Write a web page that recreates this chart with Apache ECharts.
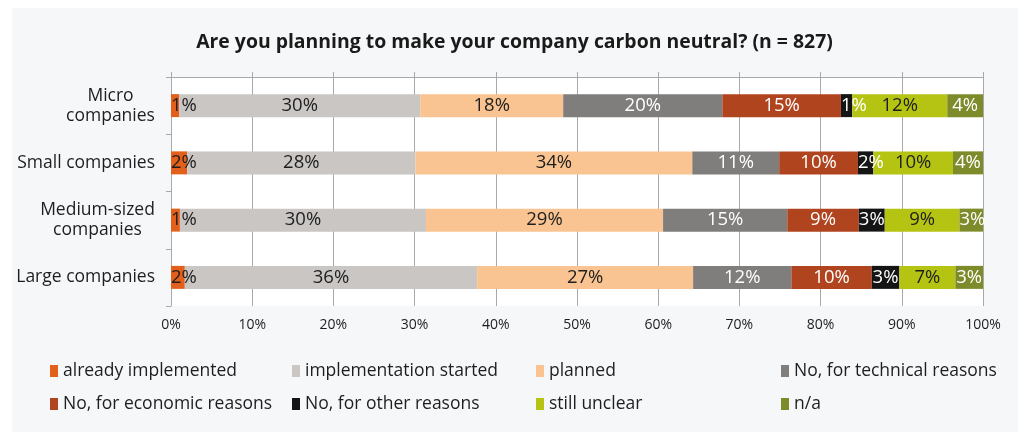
<!DOCTYPE html>
<html>
<head>
<meta charset="utf-8">
<script src="https://cdn.jsdelivr.net/npm/echarts@6/dist/echarts.min.js"></script>
<style>
  html, body { margin: 0; padding: 0; background: #ffffff; }
  #wrap { position: relative; width: 1029px; height: 438px; }
  #panel { position: absolute; left: 12px; top: 8px; width: 1006px; height: 424px; background: #f6f7f9; }
  #chart { position: absolute; left: 0; top: 0; width: 1029px; height: 438px; }
</style>
</head>
<body>
<div id="wrap"><div id="panel"></div><div id="chart"></div></div>
<script>
// Survey: carbon neutrality plans by company size (shares in %, n = 827)
const categories = ['Micro\ncompanies', 'Small companies', 'Medium-sized\ncompanies', 'Large companies'];

const alreadyImplemented    = [1.0, 2.0, 1.1, 1.7];
const implementationStarted = [29.7, 28.1, 30.3, 36.0];
const planned               = [17.6, 34.1, 29.2, 26.6];
const technicalReasons      = [19.6, 10.7, 15.3, 12.1];
const economicReasons       = [14.6, 9.7, 8.8, 9.9];
const otherReasons          = [1.4, 1.9, 3.2, 3.4];
const stillUnclear          = [11.7, 9.8, 9.2, 6.9];
const notApplicable         = [4.4, 3.7, 2.9, 3.4];

const xTickLabels = ['0%', '10%', '20%', '30%', '40%', '50%', '60%', '70%', '80%', '90%', '100%'];

const FONT = '"Open Sans", "Noto Sans", sans-serif';
const GRID_COLOR = '#a9a9a9';
const CAT_SIZE = 17.5;

const seriesDefs = [
  { name: 'already implemented',        data: alreadyImplemented,    color: '#e2601b', text: '#1e1e1e' },
  { name: 'implementation started',     data: implementationStarted, color: '#c9c6c4', text: '#1e1e1e' },
  { name: 'planned',                    data: planned,               color: '#f9c491', text: '#1e1e1e' },
  { name: 'No, for technical reasons',  data: technicalReasons,      color: '#7f7e7c', text: '#ffffff' },
  { name: 'No, for economic reasons',   data: economicReasons,       color: '#b0441f', text: '#ffffff' },
  { name: 'No, for other reasons',      data: otherReasons,          color: '#151515', text: '#ffffff' },
  { name: 'still unclear',              data: stillUnclear,          color: '#b5c413', text: '#1e1e1e' },
  { name: 'n/a',                        data: notApplicable,         color: '#7d8b2b', text: '#ffffff' }
];

// widths of multi-line category labels, so each line can be centred in its block
const measureCtx = document.createElement('canvas').getContext('2d');
measureCtx.font = CAT_SIZE + 'px ' + FONT;
const richStyles = {};
const labelKey = {};
categories.forEach((c, i) => {
  if (c.indexOf('\n') >= 0) {
    const w = Math.max(...c.split('\n').map(s => measureCtx.measureText(s).width));
    richStyles['c' + i] = { width: Math.ceil(w), align: 'center', fontSize: CAT_SIZE, fontFamily: FONT, color: '#1e1e1e', lineHeight: 20 };
    labelKey[c] = 'c' + i;
  }
});

const series = seriesDefs.map(def => ({
  name: def.name,
  type: 'bar',
  stack: 'total',
  barWidth: 23,
  itemStyle: { color: def.color },
  label: {
    show: true,
    position: 'inside',
    color: def.text,
    fontSize: 18.5,
    fontFamily: FONT,
    formatter: p => Math.round(p.value) + '%'
  },
  data: def.data.map(v => v < 3
    ? { value: v, label: { position: 'insideLeft', distance: 0 } }
    : v)
}));

// legend laid out as four columns of two items
const legendColumns = [
  { left: 45,  names: ['already implemented', 'No, for economic reasons'] },
  { left: 287, names: ['implementation started', 'No, for other reasons'] },
  { left: 531, names: ['planned', 'still unclear'] },
  { left: 776, names: ['No, for technical reasons', 'n/a'] }
];
const legends = legendColumns.map(col => ({
  left: col.left,
  top: 356,
  orient: 'vertical',
  itemGap: 13,
  itemWidth: 8,
  itemHeight: 12,
  icon: 'rect',
  selectedMode: false,
  data: col.names,
  textStyle: { fontSize: CAT_SIZE, fontFamily: FONT, color: '#1e1e1e', lineHeight: 20 }
}));

const chart = echarts.init(document.getElementById('chart'), null, { renderer: 'canvas' });
chart.setOption({
  animation: false,
  backgroundColor: 'transparent',
  title: {
    text: 'Are you planning to make your company carbon neutral? (n = 827)',
    left: 'center',
    top: 28,
    textStyle: { fontSize: 19.4, fontWeight: 'bold', fontFamily: FONT, color: '#1a1a1a' }
  },
  legend: legends,
  grid: {
    left: 171, right: 46, top: 77, bottom: 132,
    show: true, backgroundColor: '#ffffff', borderWidth: 0
  },
  xAxis: [
    {
      type: 'value', position: 'bottom', min: 0, max: 100, interval: 10,
      axisLine: { show: false },
      axisTick: { show: false },
      axisLabel: {
        margin: 12, fontSize: 14, fontFamily: FONT, color: '#1e1e1e',
        formatter: v => xTickLabels[Math.round(v / 10)]
      },
      splitLine: { show: true, lineStyle: { color: GRID_COLOR, width: 1 } }
    },
    {
      type: 'value', position: 'top', min: 0, max: 100, interval: 10,
      axisLine: { show: true, lineStyle: { color: GRID_COLOR, width: 1 } },
      axisTick: { show: true, length: 5, lineStyle: { color: GRID_COLOR } },
      axisLabel: { show: false },
      splitLine: { show: false }
    }
  ],
  yAxis: {
    type: 'category',
    data: categories,
    inverse: true,
    axisLine: { show: true, lineStyle: { color: GRID_COLOR, width: 1 } },
    axisTick: { show: true, length: 5, lineStyle: { color: GRID_COLOR } },
    axisLabel: {
      margin: 16, fontSize: CAT_SIZE, fontFamily: FONT, color: '#1e1e1e', lineHeight: 20,
      formatter: v => labelKey[v]
        ? v.split('\n').map(s => '{' + labelKey[v] + '|' + s + '}').join('\n')
        : v,
      rich: richStyles
    }
  },
  series: series
});
</script>
</body>
</html>
